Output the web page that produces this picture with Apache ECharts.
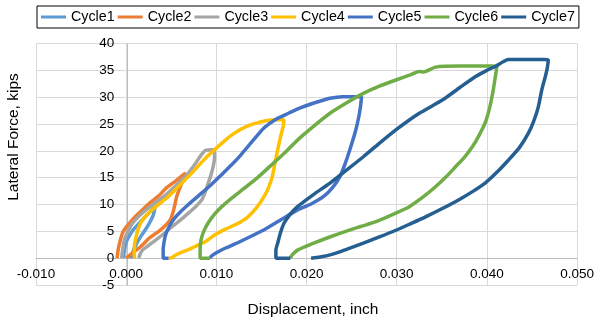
<!DOCTYPE html>
<html>
<head>
<meta charset="utf-8">
<script src="https://cdn.jsdelivr.net/npm/echarts@6/dist/echarts.min.js"></script>
<style>
  html, body { margin: 0; padding: 0; background: #fff; }
  #chart { width: 597px; height: 320px; }
</style>
</head>
<body>
<div id="chart"></div>
<script>
// displacement (inch), lateral force (kips), one loop per cycle
const cycleNames = ['Cycle1', 'Cycle2', 'Cycle3', 'Cycle4', 'Cycle5', 'Cycle6', 'Cycle7'];
const cycleColors = ['#5B9BD5', '#ED7D31', '#A5A5A5', '#FFC000', '#4472C4', '#70AD47', '#255E91'];

const cycle1 = [
  [-0.0003, 0], [-0.0002, 1.5], [0.0000, 3.0], [0.0004, 4.3], [0.0008, 5.3], [0.0016, 6.8],
  [0.0024, 8.2], [0.0032, 9.6], [0.0030, 8.0], [0.0024, 6.0], [0.0016, 4.0], [0.0010, 2.2],
  [0.0006, 0.5], [0.0005, 0]
];
const cycle2 = [
  [-0.0010, 0], [-0.0009, 1.5], [-0.0007, 3.0], [-0.0004, 4.7], [0.0000, 5.8], [0.0005, 6.8],
  [0.0011, 7.9], [0.0018, 9.0], [0.0027, 10.4], [0.0036, 11.6], [0.0044, 13.0], [0.0055, 14.4],
  [0.0063, 15.5], [0.0066, 15.8],
  [0.0064, 14.8], [0.0060, 13.3], [0.0056, 11.5], [0.0054, 10.0], [0.0052, 8.6], [0.0049, 7.2],
  [0.0043, 6.0], [0.0036, 5.0], [0.0026, 3.8], [0.0017, 2.3], [0.0008, 1.1], [0.0002, 0.3], [0.0000, 0]
];
const cycle3 = [
  [-0.0005, 0], [-0.0004, 1.5], [-0.0002, 3.4], [0.0002, 5.0], [0.0007, 6.5], [0.0014, 7.8],
  [0.0022, 9.0], [0.0033, 10.4], [0.0044, 11.8], [0.0053, 13.2], [0.0062, 14.6], [0.0070, 16.1],
  [0.0077, 17.7], [0.0083, 19.2], [0.0088, 20.1], [0.0097, 20.2],
  [0.0098, 19.0], [0.0097, 17.5], [0.0094, 15.5], [0.0091, 14.0], [0.0088, 12.5], [0.0084, 10.9],
  [0.0077, 9.6], [0.0069, 8.4], [0.0060, 7.1], [0.0051, 5.9], [0.0042, 4.6], [0.0033, 3.4],
  [0.0025, 2.4], [0.0018, 1.5], [0.0015, 0.6], [0.0014, 0]
];
const cycle4 = [
  [0.0009, 0], [0.0009, 2.0], [0.0011, 4.0], [0.0014, 5.8], [0.0018, 7.1], [0.0025, 8.4],
  [0.0033, 9.6], [0.0045, 11.2], [0.0057, 13.2], [0.0069, 15.2], [0.0080, 17.2], [0.0090, 19.0],
  [0.0098, 20.2], [0.0110, 22.0], [0.0120, 23.3], [0.0133, 24.5], [0.0145, 25.2], [0.0155, 25.6],
  [0.0165, 25.8], [0.0175, 25.8],
  [0.0174, 24.5], [0.0171, 22.5], [0.0168, 20.2], [0.0165, 17.7], [0.0162, 15.2], [0.0158, 13.2],
  [0.0153, 11.5], [0.0145, 9.5], [0.0135, 7.7], [0.0123, 6.4], [0.0110, 5.4], [0.0098, 4.3],
  [0.0087, 3.0], [0.0078, 2.3], [0.0069, 1.6], [0.0060, 1.0], [0.0054, 0.5], [0.0051, 0.1], [0.0047, 0]
];
const cycle5 = [
  [0.0047, 0], [0.0041, 0], [0.0041, 1.5], [0.0042, 3.0], [0.0044, 4.5], [0.0048, 6.0],
  [0.0053, 7.3], [0.0060, 8.6], [0.0069, 10.0], [0.0080, 11.6], [0.0093, 13.5], [0.0106, 15.6],
  [0.0117, 17.4], [0.0128, 19.4], [0.0140, 21.8], [0.0153, 24.3], [0.0167, 26.0], [0.0180, 27.0],
  [0.0193, 28.0], [0.0210, 29.0], [0.0226, 29.8], [0.0240, 30.1], [0.0256, 30.1], [0.0261, 30.1],
  [0.0260, 28.5], [0.0258, 26.4], [0.0254, 23.5], [0.0248, 20.2], [0.0243, 17.7], [0.0237, 15.2],
  [0.0229, 13.2], [0.0219, 11.5], [0.0205, 10.1], [0.0190, 9.0], [0.0172, 7.2], [0.0153, 5.3],
  [0.0135, 3.8], [0.0120, 2.6], [0.0109, 1.8], [0.0099, 0.9], [0.0094, 0.3], [0.0093, 0]
];
const cycle6 = [
  [0.0093, 0], [0.0082, 0], [0.0082, 1.5], [0.0083, 3.4], [0.0086, 5.0], [0.0091, 6.6],
  [0.0098, 8.2], [0.0106, 9.6], [0.0117, 11.2], [0.0130, 12.9], [0.0145, 14.9], [0.0160, 17.2],
  [0.0175, 19.5], [0.0190, 22.0], [0.0208, 24.6], [0.0226, 27.0], [0.0245, 29.0], [0.0263, 30.7],
  [0.0280, 32.0], [0.0299, 33.2], [0.0314, 34.1], [0.0325, 34.8], [0.0330, 34.7], [0.0343, 35.6],
  [0.0370, 35.8], [0.0406, 35.8], [0.0411, 35.7],
  [0.0409, 33.5], [0.0407, 31.3], [0.0403, 28.0], [0.0398, 25.2], [0.0391, 22.8], [0.0384, 20.8],
  [0.0375, 18.8], [0.0365, 17.0], [0.0355, 15.2], [0.0343, 13.3], [0.0330, 11.5], [0.0314, 9.6],
  [0.0299, 8.4], [0.0277, 6.8], [0.0260, 5.9], [0.0245, 5.1], [0.0225, 3.9], [0.0205, 2.6],
  [0.0190, 1.5], [0.0184, 0.6], [0.0182, 0]
];
const cycle7 = [
  [0.0182, 0], [0.0166, 0], [0.0166, 1.5], [0.0168, 2.8], [0.0171, 4.7], [0.0175, 6.5],
  [0.0182, 8.2], [0.0190, 9.6], [0.0208, 11.9], [0.0226, 14.0], [0.0245, 16.5], [0.0263, 18.9],
  [0.0280, 21.3], [0.0299, 23.9], [0.0325, 27.0], [0.0351, 29.5], [0.0370, 31.8], [0.0387, 33.8],
  [0.0400, 35.0], [0.0409, 35.7], [0.0424, 37.0], [0.0445, 37.0], [0.0464, 37.0], [0.0468, 36.9],
  [0.0467, 35.5], [0.0465, 34.0], [0.0461, 31.5], [0.0457, 28.2], [0.0452, 25.6], [0.0446, 23.3],
  [0.0436, 20.6], [0.0424, 18.3], [0.0411, 16.0], [0.0398, 14.0], [0.0384, 12.4], [0.0369, 10.9],
  [0.0350, 9.2], [0.0332, 7.7], [0.0315, 6.4], [0.0299, 5.2], [0.0280, 3.9], [0.0263, 2.8],
  [0.0245, 1.7], [0.0230, 0.8], [0.0215, 0.2], [0.0205, 0]
];
const cycles = [cycle1, cycle2, cycle3, cycle4, cycle5, cycle6, cycle7];

const xMin = -0.01, xMax = 0.05, xStep = 0.01;
const yMin = -5, yMax = 40, yStep = 5;

const font = '"Liberation Sans", Arial, sans-serif';
const W = 597, H = 320;
const grid = { left: 36, right: 14, top: 43.5, bottom: 35 };
// the axes cross at (0, 0) like the Excel original, so shift them in by the
// distance from the grid edge to the zero value
const gridW = W - grid.left - grid.right;
const gridH = H - grid.top - grid.bottom;
const yAxisShift = (0 - xMin) / (xMax - xMin) * gridW;
const xAxisShift = (0 - yMin) / (yMax - yMin) * gridH;

const chart = echarts.init(document.getElementById('chart'), null, { renderer: 'canvas' });
chart.setOption({
  animation: false,
  textStyle: { fontFamily: font },
  legend: {
    left: 37,
    top: 6,
    padding: [4, 4],
    borderColor: '#000',
    borderWidth: 1,
    itemGap: 3,
    itemWidth: 25,
    itemHeight: 3,
    icon: 'rect',
    textStyle: { fontSize: 14.3, color: '#000', fontFamily: font },
    data: cycleNames
  },
  grid: Object.assign({ containLabel: false }, grid),
  xAxis: {
    type: 'value',
    min: xMin,
    max: xMax,
    interval: xStep,
    offset: -xAxisShift,
    axisLine: { show: true, onZero: false, lineStyle: { color: '#BFBFBF', width: 1 } },
    axisTick: { show: false },
    axisLabel: {
      margin: 9,
      fontSize: 13.5,
      color: '#000',
      formatter: (v) => v.toFixed(3)
    },
    splitLine: { show: true, lineStyle: { color: '#D9D9D9', width: 1 } }
  },
  yAxis: {
    type: 'value',
    min: yMin,
    max: yMax,
    interval: yStep,
    offset: -yAxisShift,
    axisLine: { show: true, onZero: false, lineStyle: { color: '#BFBFBF', width: 1 } },
    axisTick: { show: false },
    axisLabel: { margin: 13, fontSize: 13.5, color: '#000' },
    splitLine: { show: true, lineStyle: { color: '#D9D9D9', width: 1 } }
  },
  graphic: [
    {
      type: 'text',
      x: 13.5,
      y: 137,
      rotation: Math.PI / 2,
      style: {
        text: 'Lateral Force, kips',
        font: '15.5px ' + font,
        fill: '#000',
        align: 'center',
        verticalAlign: 'middle'
      }
    },
    {
      type: 'text',
      x: 313,
      y: 310,
      style: {
        text: 'Displacement, inch',
        font: '15.5px ' + font,
        fill: '#000',
        align: 'center',
        verticalAlign: 'middle'
      }
    }
  ],
  series: cycles.map((d, i) => ({
    name: cycleNames[i],
    type: 'line',
    data: d,
    symbol: 'none',
    smooth: 0.2,
    color: cycleColors[i],
    lineStyle: { width: 3.5, color: cycleColors[i] },
    emphasis: { disabled: true }
  }))
});
</script>
</body>
</html>
